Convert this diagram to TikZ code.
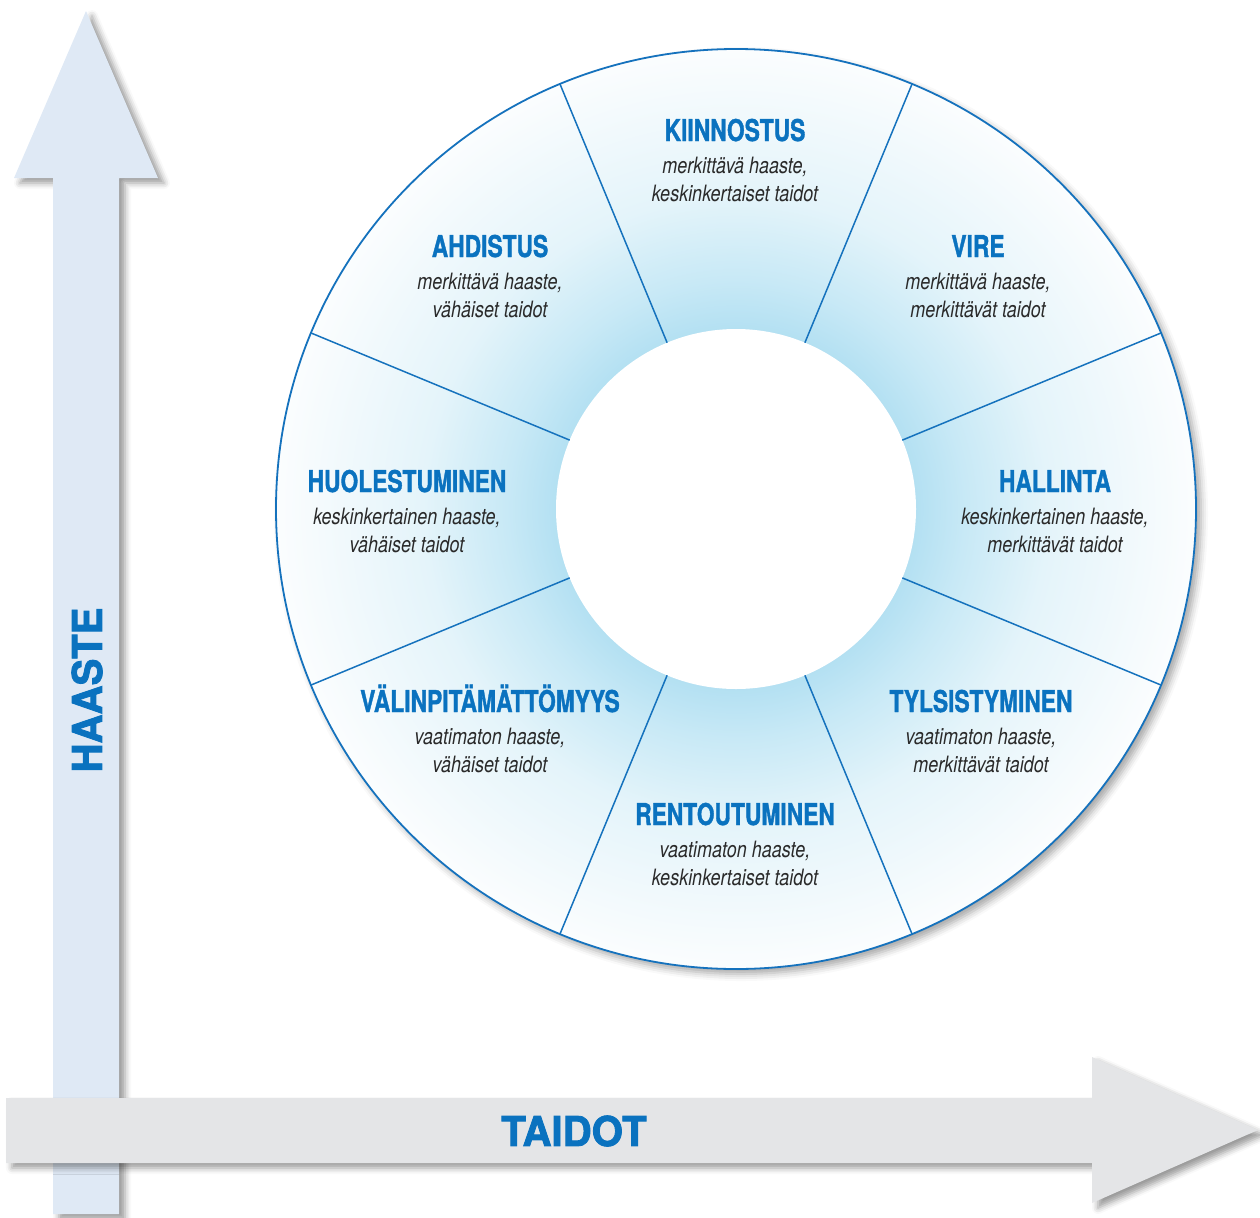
\documentclass[tikz,border=0pt]{standalone}
\usepackage{fontspec}
\usetikzlibrary{shadows.blur}
\setmainfont{TeX Gyre Heros}
\newfontfamily\titlefont{TeX Gyre Heros}[FakeStretch=0.76,FakeBold=1.2]
\newfontfamily\descfont{TeX Gyre Heros}[FakeStretch=0.80]
\newfontfamily\axisfont{TeX Gyre Heros}[FakeStretch=0.98,FakeBold=2]
\definecolor{tblue}{HTML}{0A72BF}
\definecolor{lineblue}{HTML}{1572BD}
\definecolor{vblue}{HTML}{DFE9F5}
\definecolor{hgrey}{HTML}{E4E5E7}
\definecolor{dgrey}{HTML}{2A2A2A}
\definecolor{rA}{HTML}{B3E0F2}
\definecolor{rB}{HTML}{C8E9F6}
\definecolor{rC}{HTML}{E4F4FA}
\definecolor{rD}{HTML}{FBFDFE}
\pgfdeclareradialshading{ringshade}{\pgfpoint{0bp}{0bp}}{color(0bp)=(rA); color(9.7bp)=(rA); color(12.5bp)=(rB); color(17bp)=(rC); color(25bp)=(rD); color(50bp)=(rD)}
\tikzset{
  axisarrow/.style={blur shadow={shadow xshift=6bp, shadow yshift=-5bp, shadow blur radius=6bp, shadow opacity=40}},
  segtitle/.style={anchor=base, inner sep=0pt, text=tblue, font=\titlefont\bfseries\fontsize{30bp}{34bp}\selectfont},
  segdesc/.style={anchor=base, inner sep=0pt, text=dgrey, font=\descfont\itshape\fontsize{22.5bp}{26bp}\selectfont},
  axislabel/.style={inner sep=0pt, text=tblue, font=\axisfont\bfseries\fontsize{41bp}{44bp}\selectfont},
  ringline/.style={draw=lineblue, line width=1.8bp},
}
\newcommand\seg[6]{%
  \node[segtitle] (#1) at (#2,#3) {#4};
  \node[segdesc] (#1-a) at (#2,#3+32) {#5};
  \node[segdesc] (#1-b) at (#2,#3+60) {#6};}
\begin{document}
\begin{tikzpicture}[x=1bp,y=-1bp]
\useasboundingbox (0,0) rectangle (1260,1218);
% vertical axis arrow
\path[fill=vblue, axisarrow] (53,1214) -- (53,178) -- (14,178) -- (86,11) -- (158,178) -- (119,178) -- (119,1214) -- cycle;
% horizontal axis arrow
\path[fill=hgrey, axisarrow] (6,1098) -- (1092,1098) -- (1092,1057) -- (1258,1130) -- (1092,1203) -- (1092,1163) -- (6,1163) -- cycle;
\node[axislabel, rotate=90] (haaste) at (87,690) {HAASTE};
\node[axislabel] (taidot) at (574,1131) {TAIDOT};
% ring
\coordinate (c) at (736,509);
\path[fill=white, blur shadow={shadow xshift=5bp, shadow yshift=-5bp, shadow blur radius=7bp, shadow opacity=35}] (c) circle[radius=460bp];
\path[shading=ringshade] (c) circle[radius=460bp];
\fill[white] (c) circle[radius=180bp];
\foreach \a in {22.5,67.5,...,337.5}{
  \draw[lineblue, line width=1.5bp] ($(c)+(\a:180bp)$) -- ($(c)+(\a:460bp)$);
}
\draw[ringline] (c) circle[radius=460bp];
% labels
\seg{kiinnostus}{735}{141}{KIINNOSTUS}{merkittävä haaste,}{keskinkertaiset taidot}
\seg{ahdistus}{490}{257}{AHDISTUS}{merkittävä haaste,}{vähäiset taidot}
\seg{vire}{978}{257}{VIRE}{merkittävä haaste,}{merkittävät taidot}
\seg{huolestuminen}{407}{492}{HUOLESTUMINEN}{keskinkertainen haaste,}{vähäiset taidot}
\seg{hallinta}{1055}{492}{HALLINTA}{keskinkertainen haaste,}{merkittävät taidot}
\seg{valinpitamattomyys}{490}{712}{VÄLINPITÄMÄTTÖMYYS}{vaatimaton haaste,}{vähäiset taidot}
\seg{tylsistyminen}{981}{712}{TYLSISTYMINEN}{vaatimaton haaste,}{merkittävät taidot}
\seg{rentoutuminen}{735}{825}{RENTOUTUMINEN}{vaatimaton haaste,}{keskinkertaiset taidot}
\end{tikzpicture}
\end{document}
